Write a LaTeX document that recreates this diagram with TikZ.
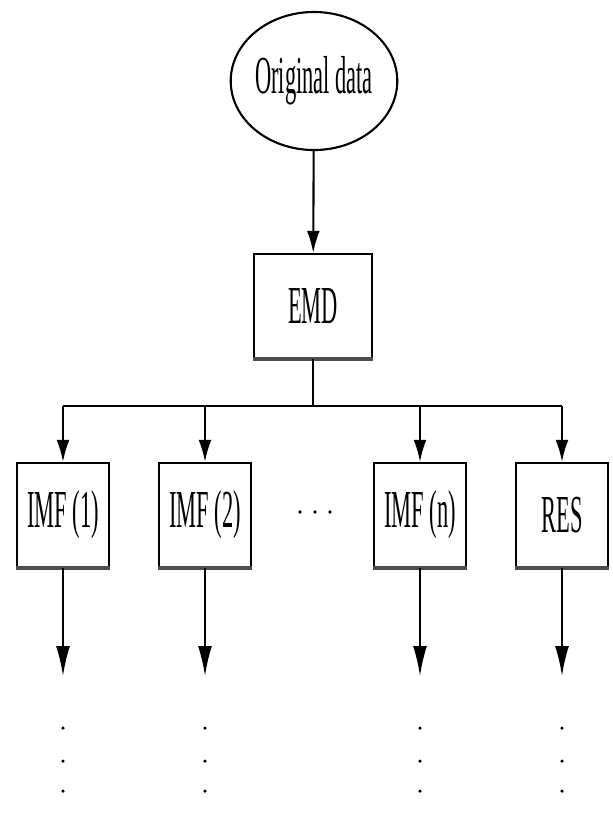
\documentclass[tikz,border=0pt]{standalone}
\usepackage{fontspec}
\newfontfamily\narrowserif[FakeStretch=0.42]{Liberation Serif}
\usetikzlibrary{shapes.geometric,arrows.meta}

\begin{document}
\begin{tikzpicture}[x=0.025cm, y=-0.025cm, line width=1.5pt,
  label/.style={font=\narrowserif\fontsize{38}{42}\selectfont, inner sep=0pt},
  box/.style={label, draw, minimum width=2.3cm, minimum height=2.6cm},
  tip/.style={-{Latex[length=5.5mm, width=3.2mm]}},
  longtip/.style={-{Latex[length=7.5mm, width=3.5mm]}}]
\useasboundingbox (0,0) rectangle (613,818);

% input and decomposition
\node[label, draw, ellipse, minimum width=3.25cm, minimum height=3.45cm] (data) at (314,81) {Original data};
\node[box, minimum width=2.95cm] (emd) at (313,306) {EMD};
\draw[tip] (data) -- (emd);

% components
\node[box] (imf1) at (63,515) {IMF (1)};
\node[box] (imf2) at (205,515) {IMF (2)};
\node[box] (imfn) at (420,515) {IMF (n)};
\node[box] (res) at (562,515) {RES};

\foreach \n in {emd, imf1, imf2, imfn, res}
  \draw[line width=2.6pt, gray!60!black] (\n.south west) -- (\n.south east);

% bus from EMD to the components
\path (313,406) coordinate (split);
\path (63,406) coordinate (bl);
\path (562,406) coordinate (br);
\draw (emd) -- (split);
\draw (bl) -- (br);
\foreach \n in {imf1, imf2, imfn, res}
  \draw[tip] (\n |- split) -- (\n);

% outgoing arrows
\foreach \n in {imf1, imf2, imfn, res} {
  \path (\n.south) ++(0,108) coordinate (\n-out);
  \draw[longtip] (\n) -- (\n-out);
  \foreach \y in {52, 85, 115}
    \fill (\n-out) ++(0,\y) circle (1.8);
}

% horizontal dots
\foreach \x in {300, 315, 330}
  \fill (\x,512) circle (1.8);
\end{tikzpicture}
\end{document}
